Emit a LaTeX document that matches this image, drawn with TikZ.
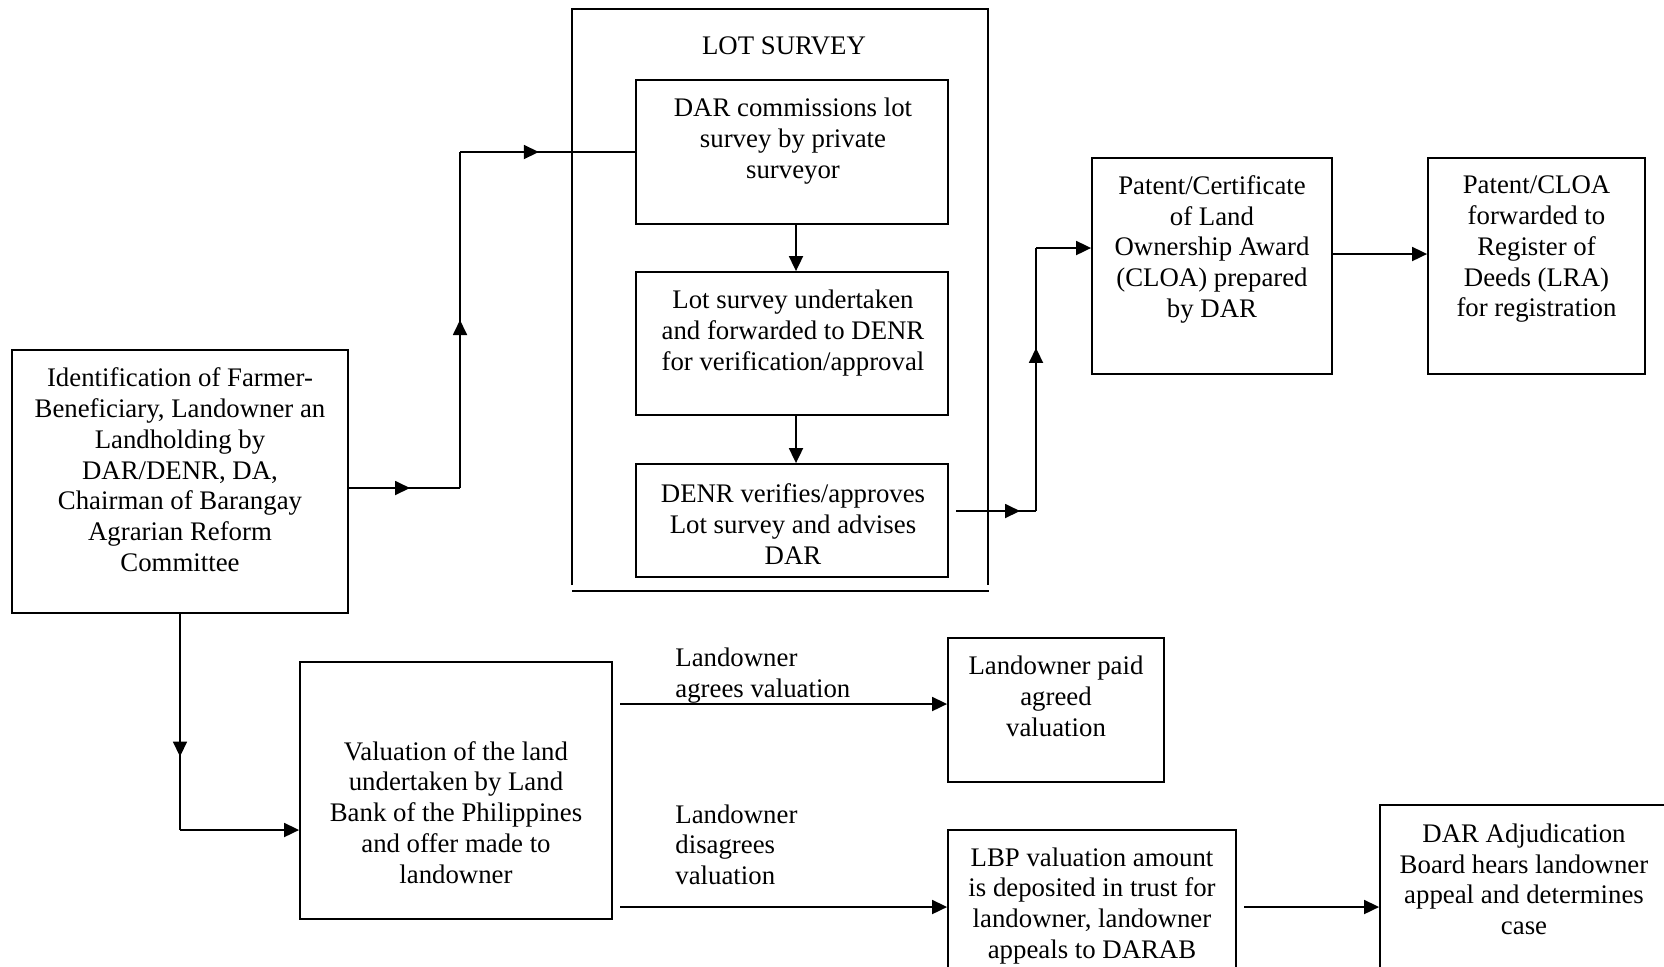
\documentclass[tikz,border=0pt]{standalone}
\usepackage{fontspec}
\setmainfont{Liberation Serif}
\usetikzlibrary{arrows.meta,decorations.markings}

\begin{document}
\begin{tikzpicture}[x=0.5pt,y=-0.5pt,
        box/.style={draw, line width=0.9pt, inner sep=0pt},
        txt/.style={align=center, inner sep=0pt, yshift=-0.9pt, font=\fontsize{13.4}{15.4}\selectfont},
        lbl/.style={align=left, inner sep=0pt, anchor=west, yshift=-0.6pt, font=\fontsize{13.4}{15.4}\selectfont},
        flow/.style={line width=0.9pt, -{Triangle[length=7.5pt,width=7pt]}},
        midtip/.style={line width=0.9pt, postaction={decorate},
            decoration={markings, mark=at position #1 with {\arrow{Triangle[length=7.5pt,width=7pt]}}}},
        midtip/.default=0.55]
    \useasboundingbox (0,0) rectangle (1664,966);
    \clip (0,0) rectangle (1664,966);

    % lot survey frame
    \draw[line width=0.9pt] (572,585) -- (572,9) -- (988,9) -- (988,585);
    \draw[line width=0.9pt] (572,591) -- (989,591);
    \node[txt] (title) at (784,44) {LOT SURVEY};

    % boxes
    \node[box, minimum width=168pt, minimum height=131.5pt] (id) at (180,481.5) {};
    \node[txt] at (180,468) {Identification of Farmer-\\Beneficiary, Landowner an\\Landholding by\\DAR/DENR, DA,\\Chairman of Barangay\\Agrarian Reform\\Committee};

    \node[box, minimum width=156pt, minimum height=72pt] (comm) at (792,152) {};
    \node[txt] at (793,139) {DAR commissions lot\\survey by private\\surveyor};

    \node[box, minimum width=156pt, minimum height=71.5pt] (undert) at (792,343.5) {};
    \node[txt] at (793,331) {Lot survey undertaken\\and forwarded to DENR\\for verification/approval};

    \node[box, minimum width=156pt, minimum height=56.5pt] (verif) at (792,520.5) {};
    \node[txt] at (793,522) {DENR verifies/approves\\Lot survey and advises\\DAR};

    \node[box, minimum width=120pt, minimum height=108pt] (patent) at (1212,266) {};
    \node[txt] at (1212,247.5) {Patent/Certificate\\of Land\\Ownership Award\\(CLOA) prepared\\by DAR};

    \node[box, minimum width=108.5pt, minimum height=108pt] (cloa) at (1536.5,266) {};
    \node[txt] at (1536.5,247.5) {Patent/CLOA\\forwarded to\\Register of\\Deeds (LRA)\\for registration};

    \node[box, minimum width=156pt, minimum height=128.5pt] (val) at (456,790.5) {};
    \node[txt] at (456,810.5) {Valuation of the land\\undertaken by Land\\Bank of the Philippines\\and offer made to\\landowner};

    \node[box, minimum width=108pt, minimum height=72pt] (paid) at (1056,710) {};
    \node[txt] at (1056,694.5) {Landowner paid\\agreed\\valuation};

    \node[box, minimum width=144pt, minimum height=85pt] (lbp) at (1092,915) {};
    \node[txt] at (1092,904) {LBP valuation amount\\is deposited in trust for\\landowner, landowner\\appeals to DARAB};

    \node[box, minimum width=145pt, minimum height=97.5pt] (darab) at (1525,902.5) {};
    \node[txt] at (1524,877.5) {DAR Adjudication\\Board hears landowner\\appeal and determines\\case};

    % branch labels
    \node[lbl] (agree) at (675,674.5) {Landowner\\agrees valuation};
    \node[lbl] (disagree) at (675,843.5) {Landowner\\disagrees\\valuation};

    % connectors
    \coordinate (j1) at (460,488);
    \coordinate (j2) at (460,152);
    \draw[midtip] (id.east |- j1) -- (j1);
    \draw[midtip=0.5] (j1) -- (j2);
    \draw[midtip=0.45] (j2) -- (comm.west);

    \draw[flow] ([xshift=2pt]comm.south) -- ([xshift=2pt]undert.north);
    \draw[flow] ([xshift=2pt]undert.south) -- ([xshift=2pt]verif.north);

    \coordinate (k0) at (956,511);
    \coordinate (k1) at (1036,511);
    \coordinate (k2) at (1036,248);
    \draw[midtip=0.8] (k0) -- (k1);
    \draw[midtip=0.62] (k1) -- (k2);
    \draw[flow] (k2) -- (k2 -| patent.west);
    \draw[flow] ([yshift=6pt]patent.east) -- ([yshift=6pt]cloa.west);

    \coordinate (j3) at (180,830);
    \draw[midtip=0.66] (id.south) -- (j3);
    \draw[flow] (j3) -- (j3 -| val.west);

    \coordinate (ag) at (620,704);
    \draw[flow] (ag) -- (ag -| paid.west);
    \coordinate (dg) at (620,907);
    \draw[flow] (dg) -- (dg -| lbp.west);
    \coordinate (lb) at (1244,907);
    \draw[flow] (lb) -- (lb -| darab.west);
\end{tikzpicture}
\end{document}
